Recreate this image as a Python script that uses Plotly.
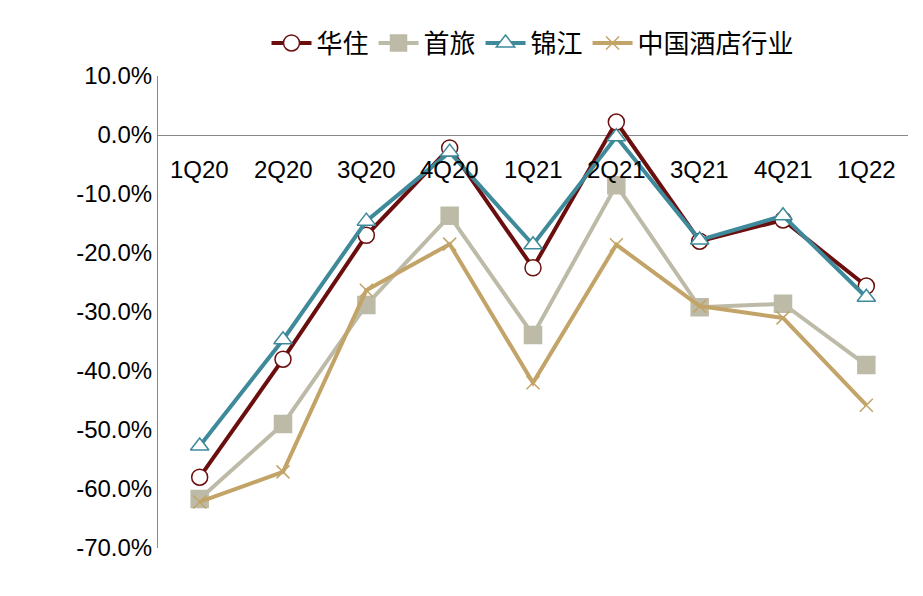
import plotly.graph_objects as go

categories = ["1Q20","2Q20","3Q20","4Q20","1Q21","2Q21","3Q21","4Q21","1Q22"]
huazhu = [-58.0,-38.0,-17.0,-2.2,-22.5,2.2,-18.0,-14.4,-25.6]
shoulv = [-61.7,-49.0,-28.8,-13.7,-33.9,-8.5,-29.2,-28.6,-39.0]
jinjiang = [-52.7,-34.7,-14.6,-2.9,-18.6,-0.3,-17.8,-13.7,-27.5]
industry = [-62.2,-57.1,-26.3,-18.5,-42.0,-18.6,-29.0,-31.0,-45.8]
yticks = [10,0,-10,-20,-30,-40,-50,-60,-70]

font = "Liberation Sans, Noto Sans CJK SC"
fig = go.Figure()
def add(name, vals, color, sym, msize, mcolor, mline):
    fig.add_trace(go.Scatter(x=categories, y=vals, name=name, mode="lines+markers",
        line=dict(color=color, width=4),
        marker=dict(symbol=sym, size=msize, color=mcolor, line=dict(color=mline, width=1.5))))
add("华住", huazhu, "#6B0E0E", "circle", 16, "white", "#6B0E0E")
add("首旅", shoulv, "#BDBBA8", "square", 17, "#BDBBA8", "#BDBBA8")
add("锦江", jinjiang, "#3E8A9A", "triangle-up", 16, "white", "#3E8A9A")
add("中国酒店行业", industry, "#C3A468", "x-thin", 13, "#C3A468", "#C3A468")

for c in categories:
    fig.add_annotation(x=c, y=0, text=c, showarrow=False, yshift=-34,
                       font=dict(size=24, color="black", family=font))

fig.update_layout(
    width=923, height=596, plot_bgcolor="white", paper_bgcolor="white",
    margin=dict(l=150, r=23, t=68, b=56),
    font=dict(family=font, size=24, color="black"),
    showlegend=True,
    legend=dict(orientation="h", x=0.5, xanchor="center", y=1.02, yanchor="bottom",
                font=dict(size=26), itemwidth=40, tracegroupgap=0),
    xaxis=dict(showticklabels=False, showgrid=False, showline=False, zeroline=False,
               range=[-0.5, 8.5]),
    yaxis=dict(range=[-70,10], tickvals=yticks, ticktext=[f"{v:.1f}%" for v in yticks],
               showgrid=False, showline=True, linecolor="#888", linewidth=1,
               zeroline=True, zerolinecolor="#888", zerolinewidth=1, ticks="",
               tickfont=dict(size=24), automargin=False),
)
fig.write_html("out.html")
